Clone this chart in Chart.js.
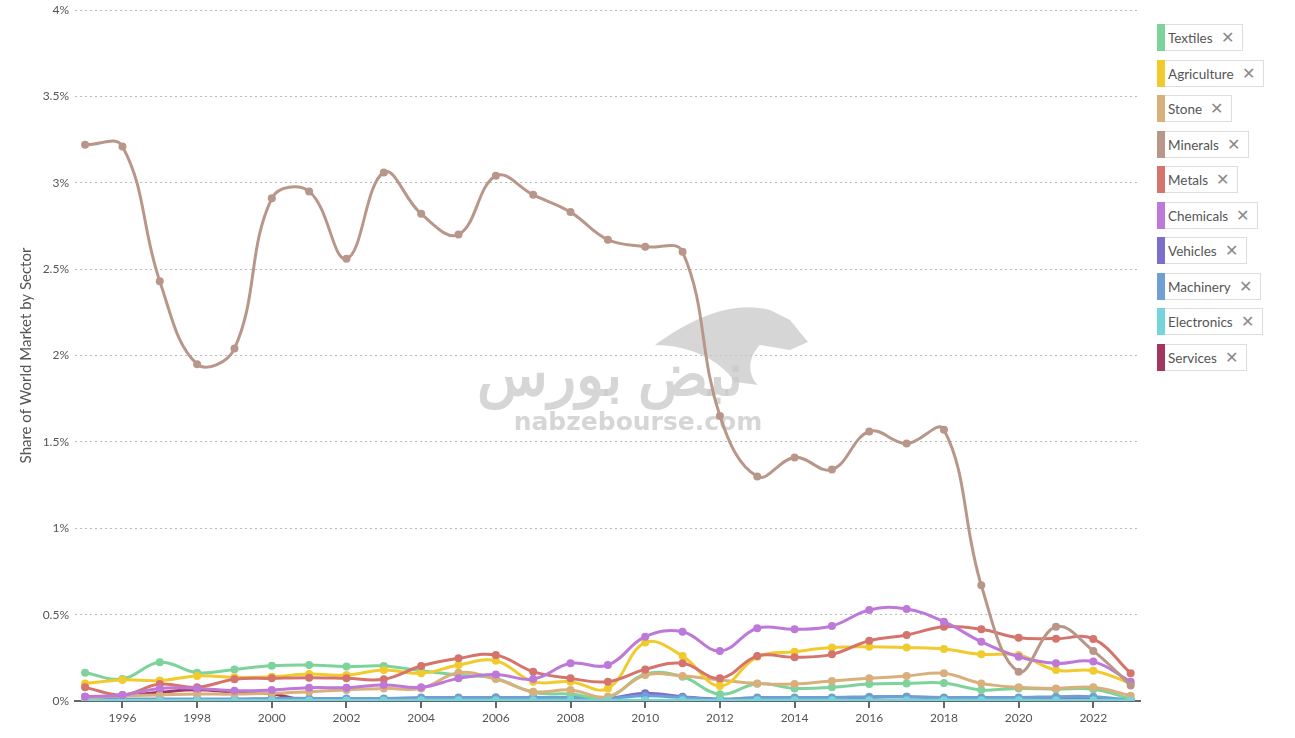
<!DOCTYPE html>
<html>
<head>
<meta charset="utf-8">
<script src="https://cdn.jsdelivr.net/npm/chart.js@4"></script>
<style>
  html, body { margin: 0; padding: 0; background: #fff; }
  body { width: 1295px; height: 738px; position: relative; overflow: hidden; font-family: "Source Sans Pro", Lato, sans-serif; }
  #wrap { position: absolute; left: 0; top: 0; width: 1150px; height: 738px; }
  #legend { position: absolute; left: 1157px; top: 24px; }
  .item { display: flex; height: 27px; margin-bottom: 8.5px; }
  .bar { width: 8px; height: 27px; }
  .box { border: 1px solid #ddd; border-left: none; height: 25px; line-height: 25px; padding: 0 8px 0 3px; font-size: 13.5px; color: #555; white-space: nowrap; }
  .box span { margin-left: 8px; color: #888; font-size: 16px; font-family: "DejaVu Sans", sans-serif; font-weight: 200; }
</style>
</head>
<body>
<div id="wrap"><canvas id="myChart" width="1150" height="738"></canvas></div>
<div id="legend"></div>
<script>
// years on the x axis
const years = [1995,1996,1997,1998,1999,2000,2001,2002,2003,2004,2005,2006,2007,2008,2009,2010,2011,2012,2013,2014,2015,2016,2017,2018,2019,2020,2021,2022,2023];
const yearTicks = [1996,1998,2000,2002,2004,2006,2008,2010,2012,2014,2016,2018,2020,2022];
const pctTicks = [0,0.5,1,1.5,2,2.5,3,3.5,4];

// share of world market (%) per sector
const textiles = [0.164,0.127,0.224,0.164,0.183,0.204,0.208,0.199,0.203,0.175,0.15,0.13,0.05,0.04,0.02,0.156,0.14,0.039,0.10,0.073,0.079,0.098,0.102,0.104,0.064,0.073,0.068,0.068,0.012];
const agriculture = [0.102,0.122,0.118,0.145,0.137,0.14,0.156,0.15,0.179,0.16,0.208,0.233,0.112,0.112,0.073,0.338,0.26,0.087,0.256,0.285,0.309,0.314,0.309,0.301,0.27,0.266,0.179,0.175,0.102];
const stone = [0.017,0.03,0.035,0.04,0.04,0.045,0.054,0.064,0.073,0.073,0.164,0.127,0.054,0.064,0.025,0.15,0.145,0.122,0.102,0.098,0.116,0.131,0.145,0.16,0.102,0.079,0.073,0.079,0.031];
const minerals = [3.22,3.21,2.43,1.95,2.04,2.91,2.95,2.56,3.06,2.82,2.70,3.04,2.93,2.83,2.67,2.63,2.60,1.65,1.30,1.41,1.34,1.56,1.49,1.57,0.67,0.17,0.43,0.29,0.09];
const metals = [0.079,0.035,0.098,0.079,0.126,0.131,0.135,0.131,0.126,0.203,0.247,0.266,0.17,0.131,0.112,0.183,0.218,0.131,0.26,0.253,0.27,0.349,0.382,0.43,0.415,0.366,0.361,0.359,0.16];
const chemicals = [0.025,0.035,0.073,0.073,0.06,0.064,0.077,0.077,0.093,0.079,0.131,0.154,0.127,0.218,0.208,0.372,0.401,0.289,0.421,0.415,0.434,0.527,0.533,0.459,0.343,0.256,0.218,0.228,0.112];
const vehicles = [0.01,0.01,0.01,0.01,0.01,0.01,0.01,0.01,0.01,0.015,0.015,0.02,0.02,0.02,0.015,0.045,0.025,0.01,0.015,0.015,0.015,0.02,0.025,0.015,0.015,0.015,0.015,0.015,0.005];
const machinery = [0.01,0.01,0.01,0.01,0.01,0.015,0.015,0.015,0.015,0.02,0.02,0.02,0.02,0.02,0.015,0.03,0.02,0.01,0.02,0.02,0.02,0.025,0.025,0.02,0.02,0.02,0.025,0.025,0.005];
const electronics = [0.003,0.003,0.003,0.003,0.003,0.003,0.003,0.003,0.003,0.004,0.004,0.004,0.004,0.004,0.003,0.005,0.004,0.003,0.004,0.004,0.004,0.004,0.004,0.004,0.004,0.004,0.004,0.004,0.002];
const services = [0.025,0.03,0.05,0.065,0.05,0.04,0.0,0.002,0.002,0.002,0.002,0.002,0.002,0.002,0.002,0.002,0.002,0.002,0.002,0.002,0.002,0.002,0.002,0.002,0.002,0.002,0.002,0.002,0.002];

const sectors = [
    {name: 'Textiles', data: textiles, color: '#7dd39b', order: 6},
    {name: 'Agriculture', data: agriculture, color: '#f1cb2d', order: 3},
    {name: 'Stone', data: stone, color: '#d9b07c', order: 5},
    {name: 'Minerals', data: minerals, color: '#b8978a', order: 0},
    {name: 'Metals', data: metals, color: '#d5736d', order: 2},
    {name: 'Chemicals', data: chemicals, color: '#be78d8', order: 1},
    {name: 'Vehicles', data: vehicles, color: '#7c6ecb', order: 8},
    {name: 'Machinery', data: machinery, color: '#6f9fd3', order: 7},
    {name: 'Electronics', data: electronics, color: '#75d5d8', order: 4},
    {name: 'Services', data: services, color: '#a2365f', order: 9}
];

// legend boxes
var legend = document.getElementById('legend');
sectors.forEach(function (s) {
    var el = document.createElement('div');
    el.className = 'item';
    el.innerHTML = '<div class="bar" style="background:' + s.color + '"></div><div class="box">' + s.name + '<span>&#x2715;</span></div>';
    legend.appendChild(el);
});

// faint watermark behind the lines
const watermark = {
    id: 'watermark',
    beforeDatasetsDraw(chart) {
        const c = chart.ctx;
        c.save();
        c.fillStyle = 'rgba(200,200,200,0.75)';
        c.textAlign = 'center';
        c.textBaseline = 'middle';
        c.font = 'bold 58px "Noto Sans", sans-serif';
        c.fillText('نبض بورس', 610, 378);
        c.font = 'bold 25px "DejaVu Sans", sans-serif';
        c.fillText('nabzebourse.com', 638, 423);
        // bull silhouette
        c.beginPath();
        c.moveTo(655, 345);
        c.bezierCurveTo(690, 320, 730, 300, 770, 310);
        c.lineTo(790, 320);
        c.lineTo(808, 342);
        c.lineTo(790, 350);
        c.lineTo(760, 345);
        c.bezierCurveTo(745, 360, 750, 378, 758, 385);
        c.lineTo(735, 382);
        c.bezierCurveTo(720, 360, 690, 345, 655, 345);
        c.closePath();
        c.fill();
        c.restore();
    }
};

var ctx = document.getElementById('myChart');
var myChart = new Chart(ctx, {
    type: 'line',
    data: {
        datasets: sectors.map(function (s) {
            return {
                label: s.name,
                data: s.data.map(function (v, i) { return {x: years[i], y: v}; }),
                borderColor: s.color,
                backgroundColor: s.color,
                borderWidth: 3,
                pointRadius: 4,
                pointBorderWidth: 0,
                tension: 0.4,
                order: s.order
            };
        })
    },
    plugins: [watermark],
    options: {
        responsive: false,
        animation: false,
        layout: {padding: {top: 10, right: 10, left: 0, bottom: 0}},
        plugins: {
            legend: {display: false},
            tooltip: {enabled: false}
        },
        scales: {
            x: {
                type: 'linear',
                min: 1994.73,
                max: 2023.25,
                afterBuildTicks: function (scale) {
                    scale.ticks = yearTicks.map(function (v) { return {value: v}; });
                },
                afterFit: function (scale) { scale.height = 37; },
                border: {color: '#666', width: 2},
                grid: {drawOnChartArea: false, drawTicks: true, tickLength: 7, color: '#666', lineWidth: 2},
                ticks: {
                    color: '#555',
                    font: {size: 12, family: '"Source Sans Pro", Lato, sans-serif'},
                    padding: 3,
                    maxRotation: 0,
                    callback: function (v) { return String(v); }
                }
            },
            y: {
                min: 0,
                max: 4,
                afterBuildTicks: function (scale) {
                    scale.ticks = pctTicks.map(function (v) { return {value: v}; });
                },
                afterFit: function (scale) {
                    scale.width = 75;
                    scale.paddingTop = 0;
                    scale.paddingBottom = 0;
                },
                border: {display: false, dash: [2, 3]},
                grid: {color: '#bbb', drawTicks: false, lineWidth: 1},
                ticks: {
                    color: '#555',
                    padding: 6,
                    font: {size: 12, family: '"Source Sans Pro", Lato, sans-serif'},
                    callback: function (v) { return v + '%'; }
                },
                title: {
                    display: true,
                    text: 'Share of World Market by Sector',
                    color: '#555',
                    padding: {top: 17, bottom: 4},
                    font: {size: 15, family: '"Source Sans Pro", Lato, sans-serif'}
                }
            }
        }
    }
});
</script>
</body>
</html>
